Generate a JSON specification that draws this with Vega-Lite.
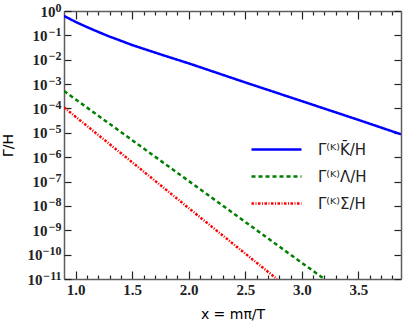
{
  "$schema": "https://vega.github.io/schema/vega-lite/v6.json",
  "width": 337,
  "height": 268,
  "autosize": "none",
  "padding": {"left": 64, "top": 11, "right": 8, "bottom": 48},
  "config": {
    "view": {"stroke": null},
    "axis": {"grid": false, "domainColor": "#5e5e5e", "domainWidth": 1.5, "tickColor": "#222222", "tickWidth": 1.2}
  },
  "data": {
    "values": [
      {"series": "Γ⁽ᴷ⁾K̄/H", "x": 0.897, "y": 0.63},
      {"series": "Γ⁽ᴷ⁾K̄/H", "x": 1.0, "y": 0.355},
      {"series": "Γ⁽ᴷ⁾K̄/H", "x": 1.1, "y": 0.219},
      {"series": "Γ⁽ᴷ⁾K̄/H", "x": 1.2, "y": 0.138},
      {"series": "Γ⁽ᴷ⁾K̄/H", "x": 1.3, "y": 0.089},
      {"series": "Γ⁽ᴷ⁾K̄/H", "x": 1.4, "y": 0.06},
      {"series": "Γ⁽ᴷ⁾K̄/H", "x": 1.5, "y": 0.04},
      {"series": "Γ⁽ᴷ⁾K̄/H", "x": 1.75, "y": 0.0166},
      {"series": "Γ⁽ᴷ⁾K̄/H", "x": 2.0, "y": 0.0071},
      {"series": "Γ⁽ᴷ⁾K̄/H", "x": 2.5, "y": 0.00117},
      {"series": "Γ⁽ᴷ⁾K̄/H", "x": 3.0, "y": 0.0002},
      {"series": "Γ⁽ᴷ⁾K̄/H", "x": 3.5, "y": 0.000034},
      {"series": "Γ⁽ᴷ⁾K̄/H", "x": 3.877, "y": 0.0000087},
      {"series": "Γ⁽ᴷ⁾Λ/H", "x": 0.897, "y": 0.00052},
      {"series": "Γ⁽ᴷ⁾Λ/H", "x": 1.5, "y": 0.000005},
      {"series": "Γ⁽ᴷ⁾Λ/H", "x": 2.0, "y": 1.05e-7},
      {"series": "Γ⁽ᴷ⁾Λ/H", "x": 2.5, "y": 2.2e-9},
      {"series": "Γ⁽ᴷ⁾Λ/H", "x": 3.0, "y": 4.6e-11},
      {"series": "Γ⁽ᴷ⁾Λ/H", "x": 3.2, "y": 1e-11},
      {"series": "Γ⁽ᴷ⁾Σ/H", "x": 0.897, "y": 0.00011},
      {"series": "Γ⁽ᴷ⁾Σ/H", "x": 1.5, "y": 6.2e-7},
      {"series": "Γ⁽ᴷ⁾Σ/H", "x": 2.0, "y": 8.1e-9},
      {"series": "Γ⁽ᴷ⁾Σ/H", "x": 2.5, "y": 1.1e-10},
      {"series": "Γ⁽ᴷ⁾Σ/H", "x": 2.78, "y": 1e-11}
    ]
  },
  "layer": [
    {
      "mark": {"type": "line", "clip": true},
      "encoding": {
        "x": {
          "field": "x", "type": "quantitative",
          "scale": {"domain": [0.897, 3.877], "nice": false, "zero": false},
          "axis": {
            "orient": "bottom",
            "title": "x = mπ/T",
            "titleFont": "DejaVu Sans", "titleFontSize": 14, "titleFontWeight": "normal", "titlePadding": 10,
            "values": [1.0, 1.1, 1.2, 1.3, 1.4, 1.5, 1.6, 1.7, 1.8, 1.9, 2.0, 2.1, 2.2, 2.3, 2.4, 2.5, 2.6, 2.7, 2.8, 2.9, 3.0, 3.1, 3.2, 3.3, 3.4, 3.5, 3.6, 3.7, 3.8],
            "labelExpr": "abs(datum.value*2 - round(datum.value*2)) < 0.001 ? format(datum.value, '.1f') : ''",
            "labelFont": "Liberation Serif", "labelFontWeight": "bold", "labelFontSize": 15, "labelColor": "#222222",
            "labelPadding": 11,
            "tickSize": {"condition": {"test": "abs(datum.value*2 - round(datum.value*2)) < 0.001", "value": -8}, "value": -4}
          }
        },
        "y": {
          "field": "y", "type": "quantitative",
          "scale": {"type": "log", "domain": [1e-11, 1], "nice": false},
          "axis": {
            "orient": "left",
            "title": "Γ/H",
            "titleFont": "DejaVu Sans", "titleFontSize": 14, "titleFontWeight": "normal", "titlePadding": 17,
            "values": [0.1, 0.01, 0.001, 0.0001, 0.00001, 0.000001, 1e-7, 1e-8, 1e-9],
            "labelExpr": "'10'", "domain": false, "tickSize": -7,
            "labelFont": "Liberation Serif", "labelFontWeight": "bold", "labelFontSize": 15, "labelColor": "#222222",
            "labelPadding": 24
          }
        },
        "color": {
          "field": "series", "type": "nominal",
          "scale": {"domain": ["Γ⁽ᴷ⁾K̄/H", "Γ⁽ᴷ⁾Λ/H", "Γ⁽ᴷ⁾Σ/H"], "range": ["#0000ff", "#008000", "#ff0000"]},
          "legend": {
            "orient": "none", "legendX": 201, "legendY": 127, "title": null,
            "symbolType": "M-2.5,0H2.5", "symbolSize": 400, "symbolStrokeWidth": 2.5,
            "labelFont": "DejaVu Sans", "labelFontSize": 15, "labelColor": "#222222", "labelOffset": 30,
            "rowPadding": 7, "padding": 0
          }
        },
        "strokeDash": {
          "field": "series", "type": "nominal",
          "scale": {"domain": ["Γ⁽ᴷ⁾K̄/H", "Γ⁽ᴷ⁾Λ/H", "Γ⁽ᴷ⁾Σ/H"], "range": [[1, 0], [4, 3], [2.5, 1.5, 1, 1.5]]}
        },
        "strokeWidth": {
          "field": "series", "type": "nominal",
          "scale": {"domain": ["Γ⁽ᴷ⁾K̄/H", "Γ⁽ᴷ⁾Λ/H", "Γ⁽ᴷ⁾Σ/H"], "range": [2.5, 2.5, 1.6]}
        }
      }
    },
    {
      "mark": {"type": "line", "opacity": 0},
      "encoding": {
        "x": {
          "field": "x", "type": "quantitative",
          "axis": {
            "orient": "top", "title": null, "labels": false,
            "values": [1.0, 1.1, 1.2, 1.3, 1.4, 1.5, 1.6, 1.7, 1.8, 1.9, 2.0, 2.1, 2.2, 2.3, 2.4, 2.5, 2.6, 2.7, 2.8, 2.9, 3.0, 3.1, 3.2, 3.3, 3.4, 3.5, 3.6, 3.7, 3.8],
            "tickSize": {"condition": {"test": "abs(datum.value*2 - round(datum.value*2)) < 0.001", "value": -8}, "value": -4}
          }
        },
        "y": {
          "field": "y", "type": "quantitative",
          "axis": {
            "orient": "right", "title": null, "labels": false,
            "values": [1, 0.1, 0.01, 0.001, 0.0001, 0.00001, 0.000001, 1e-7, 1e-8, 1e-9, 1e-10, 1e-11],
            "tickSize": -7
          }
        },
        "detail": {"field": "series", "type": "nominal"}
      }
    },
    {
      "mark": {"type": "line", "opacity": 0},
      "encoding": {
        "x": {"field": "x", "type": "quantitative", "axis": null},
        "y": {
          "field": "y", "type": "quantitative",
          "axis": {
            "orient": "left", "title": null, "ticks": false,
            "values": [1, 0.1, 0.01, 0.001, 0.0001, 0.00001, 0.000001, 1e-7, 1e-8, 1e-9, 1e-10, 1e-11],
            "labelExpr": "round(log(datum.value)/LN10) == 0 ? '0' : '−' + abs(round(log(datum.value)/LN10))",
            "labelFont": "Liberation Serif", "labelFontWeight": "bold", "labelFontSize": 12, "labelColor": "#222222",
            "labelPadding": 3, "labelOffset": -4
          }
        },
        "detail": {"field": "series", "type": "nominal"}
      }
    },
    {
      "mark": {"type": "line", "opacity": 0},
      "encoding": {
        "x": {"field": "x", "type": "quantitative", "axis": null},
        "y": {
          "field": "y", "type": "quantitative",
          "axis": {
            "orient": "left", "title": null, "domain": false, "tickSize": -7,
            "values": [1],
            "labelExpr": "'10'",
            "labelFont": "Liberation Serif", "labelFontWeight": "bold", "labelFontSize": 15, "labelColor": "#222222",
            "labelPadding": 16
          }
        },
        "detail": {"field": "series", "type": "nominal"}
      }
    },
    {
      "mark": {"type": "line", "opacity": 0},
      "encoding": {
        "x": {"field": "x", "type": "quantitative", "axis": null},
        "y": {
          "field": "y", "type": "quantitative",
          "axis": {
            "orient": "left", "title": null, "domain": false, "tickSize": -7,
            "values": [1e-10, 1e-11],
            "labelExpr": "'10'",
            "labelFont": "Liberation Serif", "labelFontWeight": "bold", "labelFontSize": 15, "labelColor": "#222222",
            "labelPadding": 29
          }
        },
        "detail": {"field": "series", "type": "nominal"}
      }
    }
  ],
  "resolve": {"axis": {"x": "independent", "y": "independent"}}
}
